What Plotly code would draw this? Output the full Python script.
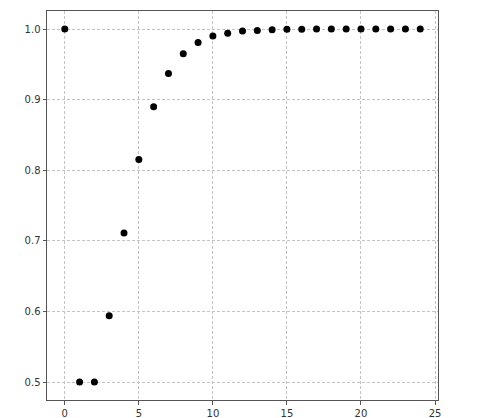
import plotly.graph_objects as go

x_vals = list(range(25))
y_vals = [1.0, 0.5, 0.5, 0.594, 0.711, 0.815, 0.890, 0.937, 0.965, 0.981,
          0.990, 0.994, 0.997, 0.998, 0.999, 0.9995, 0.9997, 0.9999, 1.0, 1.0,
          1.0, 1.0, 1.0, 1.0, 1.0]
x_ticks = [0, 5, 10, 15, 20, 25]
y_ticks = [0.5, 0.6, 0.7, 0.8, 0.9, 1.0]

fig = go.Figure()
fig.add_trace(go.Scatter(x=x_vals, y=y_vals, mode="markers",
                         marker=dict(color="black", size=7), showlegend=False))

axis_common = dict(
    showline=True, linecolor="#555555", linewidth=1, mirror=True,
    ticks="outside", ticklen=3.5, tickcolor="#555555", tickwidth=1,
    showgrid=True, gridcolor="#c4c4c4", griddash="3px,2px", gridwidth=0.8,
    zeroline=False, automargin=False,
    tickfont=dict(family="DejaVu Sans", size=10, color="#333333"),
)

fig.update_layout(
    width=482, height=418,
    margin=dict(l=47, r=44, t=11, b=18),
    plot_bgcolor="white", paper_bgcolor="white",
    xaxis=dict(range=[-1.2, 25.2], tickvals=x_ticks, **axis_common),
    yaxis=dict(range=[0.4745, 1.0255], tickvals=y_ticks, tickformat=".1f", **axis_common),
)

fig.write_html("out.html", config={"displayModeBar": False},
               post_script="document.body.style.margin='0';")
